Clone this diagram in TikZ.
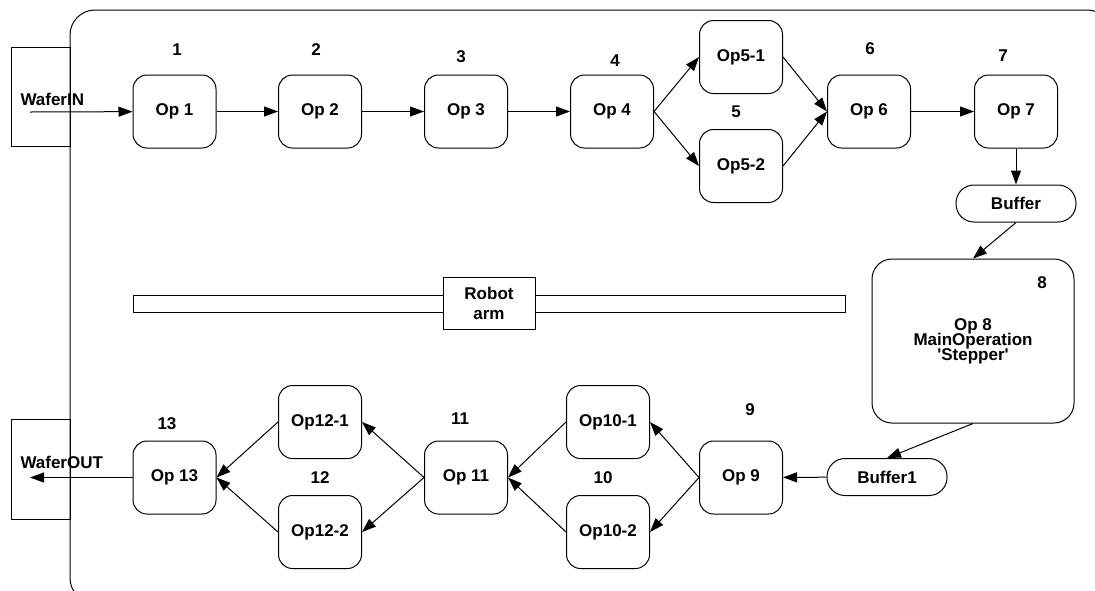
\documentclass[tikz,border=0pt]{standalone}
\usepackage{fontspec}
\setmainfont{Liberation Sans}
\usetikzlibrary{arrows.meta}

\begin{document}
\begin{tikzpicture}[x=0.5pt, y=-0.5pt, line width=0.5pt,
    font=\fontsize{8.5}{10}\selectfont\bfseries,
    op/.style={draw, rounded corners=7pt, minimum width=41.5pt, minimum height=36.5pt, inner sep=1pt},
    buf/.style={draw, rounded corners=9pt, minimum width=60pt, minimum height=18.5pt, inner sep=1pt},
    num/.style={inner sep=0pt},
    flow/.style={-{Triangle[length=7pt,width=5pt]}}]
    \useasboundingbox (0,0) rectangle (1095,590);
    \clip (0,0) rectangle (1095,590);

    % Cell frame and load ports
    \draw (11,47) rectangle (70,146);
    \draw (11,419) rectangle (70,519);
    \draw[rounded corners=12.5pt] (70,10) rectangle (1112,603);
    \node[num, anchor=west] (wafin) at (20,99) {WaferIN};
    \node[num, anchor=west] (wafout) at (20,462) {WaferOUT};
    \coordinate (inpt) at (30,112);
    \coordinate (outpt) at (30,477.5);

    % Robot arm on its rail
    \draw (133,295) rectangle (845,312);
    \node[draw, fill=white, minimum width=46pt, minimum height=26pt, align=center, inner sep=1pt] (robot) at (489,303) {Robot\\arm};

    % Upper line of operations
    \node[op] (op1) at (174.5,111.5) {Op 1};
    \node[op] (op2) at (320,111.5) {Op 2};
    \node[op] (op3) at (466,111.5) {Op 3};
    \node[op] (op4) at (612,111.5) {Op 4};
    \node[op] (op51) at (741,57) {Op5-1};
    \node[op] (op52) at (741,166) {Op5-2};
    \node[op] (op6) at (869,111.5) {Op 6};
    \node[op] (op7) at (1016,111.5) {Op 7};
    \node[buf] (buf) at (1016,203.5) {Buffer};

    % Main operation
    \node[draw, rounded corners=10pt, minimum width=101pt, minimum height=82pt, align=center] (op8) at (973,341)
          {Op 8\\[-2.5pt]MainOperation\\[-2.5pt]\textquotesingle Stepper\textquotesingle};

    % Lower line of operations
    \node[buf] (buf1) at (887,477) {Buffer1};
    \node[op] (op9) at (741,477.5) {Op 9};
    \node[op] (op101) at (608,422) {Op10-1};
    \node[op] (op102) at (608,532) {Op10-2};
    \node[op] (op11) at (466,477.5) {Op 11};
    \node[op] (op121) at (320,422) {Op12-1};
    \node[op] (op122) at (320,532) {Op12-2};
    \node[op] (op13) at (174.5,477.5) {Op 13};

    % Step numbers
    \node[num] (n1) at (177,50) {1};
    \node[num] (n2) at (316,50) {2};
    \node[num] (n3) at (461,57) {3};
    \node[num] (n4) at (615,61) {4};
    \node[num] (n5) at (736,112) {5};
    \node[num] (n6) at (870,49) {6};
    \node[num] (n7) at (1003,56) {7};
    \node[num] (n8) at (1042,283) {8};
    \node[num] (n9) at (750,410) {9};
    \node[num] (n10) at (603,478) {10};
    \node[num] (n11) at (460,419) {11};
    \node[num] (n12) at (320,478) {12};
    \node[num] (n13) at (167,424) {13};

    % Wafer flow
    \draw[flow] (inpt) -- (op1);
    \draw[flow] (op1) -- (op2);
    \draw[flow] (op2) -- (op3);
    \draw[flow] (op3) -- (op4);
    \draw[flow] (op4.east) -- (op51.west);
    \draw[flow] (op4.east) -- (op52.west);
    \draw[flow] (op51.east) -- (op6.west);
    \draw[flow] (op52.east) -- (op6.west);
    \draw[flow] (op6) -- (op7);
    \draw[flow] (op7) -- (buf);
    \draw[flow] (buf.south) -- (op8.north);
    \draw[flow] (op8.south) -- (buf1.north);
    \draw[flow] (buf1) -- (op9);
    \draw[flow] (op9.west) -- (op101.east);
    \draw[flow] (op9.west) -- (op102.east);
    \draw[flow] (op101.west) -- (op11.east);
    \draw[flow] (op102.west) -- (op11.east);
    \draw[flow] (op11.west) -- (op121.east);
    \draw[flow] (op11.west) -- (op122.east);
    \draw[flow] (op121.west) -- (op13.east);
    \draw[flow] (op122.west) -- (op13.east);
    \draw[flow] (op13) -- (outpt);
\end{tikzpicture}
\end{document}
